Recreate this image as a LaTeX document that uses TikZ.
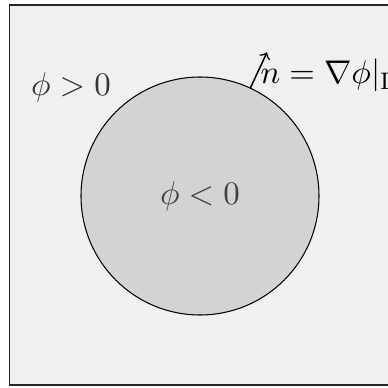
\documentclass[tikz,border=0pt]{standalone}
\usetikzlibrary{calc}
\definecolor{outerfill}{HTML}{F0F0F0}
\definecolor{innerfill}{HTML}{D3D3D3}
\tikzset{
  every node/.style={font=\fontsize{10.95}{13}\selectfont},
  domainbox/.style={draw=black!85, line width=0.5pt, fill=outerfill},
  region/.style={circle, draw=black, line width=0.35pt, fill=innerfill, minimum size=79.33pt, inner sep=0pt, text=black!75},
  signlabel/.style={text=black!80, inner sep=0pt},
}
\begin{document}
\begin{tikzpicture}[x=0.33333pt,y=0.33333pt]
\useasboundingbox (0,0) rectangle (388,388);
\clip (0,0) rectangle (388,388);
\draw[domainbox] (9.5,383) rectangle (420,3);
\node[region] (c) at (200,192) {$\phi<0$};
\node[signlabel] (pos) at (71,301) {$\phi>0$};
\path (c.65) ++(65:39) coordinate (tip);
\draw[->, line width=0.5pt] (c.65) -- (tip);
\node[anchor=base west, inner sep=0pt] (lbl) at (260,304) {$n=\nabla\phi|_\Gamma$};
\end{tikzpicture}
\end{document}
